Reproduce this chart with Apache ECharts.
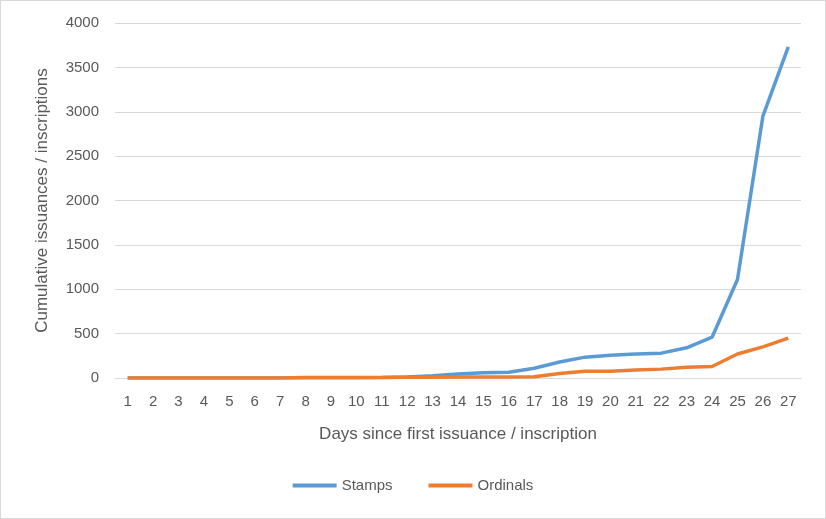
<!DOCTYPE html>
<html><head><meta charset="utf-8">
<script src="https://cdn.jsdelivr.net/npm/echarts@6/dist/echarts.min.js"></script>
<style>html,body{margin:0;padding:0;background:#fff}#c{width:824px;height:517px;border:1px solid #d9d9d9}</style>
</head><body><div id="c"></div>
<script>
const days = Array.from({length:27},(_,i)=>String(i+1));
const stamps = [0,0,0,0,0,0,0,2,3,4,5,10,25,45,60,65,110,180,235,255,270,280,340,460,1110,2950,3730];
const ordinals = [0,0,0,0,0,0,0,5,5,5,5,8,9,10,10,10,15,50,75,75,90,100,120,130,270,350,450];
const chart = echarts.init(document.getElementById('c'));
chart.setOption({
  animation:false,
  textStyle:{fontFamily:'"Liberation Sans", Arial, sans-serif'},
  grid:{left:114,right:24,top:22,bottom:140},
  legend:{bottom:20,itemWidth:44,itemHeight:4,icon:'rect',itemGap:36,textStyle:{color:'#595959',fontSize:15},data:['Stamps','Ordinals']},
  xAxis:{type:'category',data:days,boundaryGap:true,name:'Days since first issuance / inscription',nameLocation:'middle',nameGap:48,
    nameTextStyle:{color:'#595959',fontSize:17},
    axisLine:{lineStyle:{color:'#d9d9d9'}},axisTick:{show:false},axisLabel:{color:'#595959',fontSize:15,margin:16,interval:0}},
  yAxis:{type:'value',min:0,max:4000,interval:500,name:'Cumulative issuances / inscriptions',nameLocation:'middle',nameGap:64,
    nameTextStyle:{color:'#595959',fontSize:17},
    axisLine:{show:false},axisTick:{show:false},axisLabel:{color:'#595959',fontSize:15,margin:16,formatter:v=>String(v)},
    splitLine:{lineStyle:{color:'#d9d9d9'}}},
  series:[
    {name:'Stamps',type:'line',data:stamps,showSymbol:false,lineStyle:{width:3.5,color:'#5B9BD5'},itemStyle:{color:'#5B9BD5'}},
    {name:'Ordinals',type:'line',data:ordinals,showSymbol:false,lineStyle:{width:3.5,color:'#ED7D31'},itemStyle:{color:'#ED7D31'}}
  ]
});
</script></body></html>
